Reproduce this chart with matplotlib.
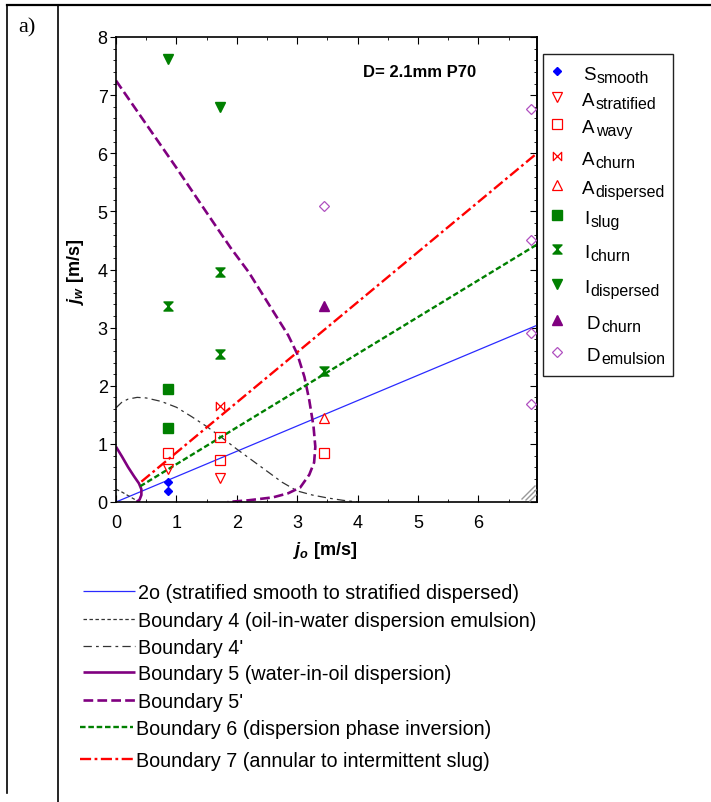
import matplotlib
matplotlib.use('Agg')
import matplotlib.pyplot as plt
from matplotlib.lines import Line2D
from matplotlib.patches import Rectangle
from matplotlib.path import Path
from matplotlib.ticker import MultipleLocator

plt.rcParams['font.family'] = ['Liberation Sans', 'DejaVu Sans']
plt.rcParams['mathtext.fontset'] = 'custom'
plt.rcParams['mathtext.rm'] = 'Liberation Sans:bold'
plt.rcParams['mathtext.it'] = 'Liberation Sans:bold:italic'
plt.rcParams['mathtext.bf'] = 'Liberation Sans:bold'
plt.rcParams['lines.scale_dashes'] = False

# ---------------- data ----------------
s_smooth_x = [0.86, 0.86]
s_smooth_y = [0.35, 0.19]
a_strat_x = [0.86, 1.72]
a_strat_y = [0.57, 0.41]
a_wavy_x = [0.86, 1.72, 1.72, 3.44]
a_wavy_y = [0.85, 0.73, 1.11, 0.85]
a_churn_x = [1.72]
a_churn_y = [1.66]
a_disp_x = [3.44]
a_disp_y = [1.44]
i_slug_x = [0.86, 0.86]
i_slug_y = [1.95, 1.27]
i_churn_x = [0.86, 1.72, 1.72, 3.44]
i_churn_y = [3.37, 3.96, 2.54, 2.26]
i_disp_x = [0.86, 1.72]
i_disp_y = [7.62, 6.80]
d_churn_x = [3.44]
d_churn_y = [3.38]
d_emul_x = [3.44, 6.87, 6.87, 6.87, 6.87]
d_emul_y = [5.09, 6.76, 4.50, 2.90, 1.68]

b2o_x = [0.0, 6.97]
b2o_y = [0.0, 3.04]
b4_x = [0.0, 0.1, 0.2, 0.3, 0.4]
b4_y = [0.22, 0.17, 0.11, 0.05, 0.0]
b4p_x = [0.0, 0.1, 0.2, 0.35, 0.5, 0.75, 1.0, 1.25, 1.5, 1.75, 2.0, 2.25,
         2.5, 2.75, 3.0, 3.25, 3.5, 3.75, 4.0]
b4p_y = [1.62, 1.72, 1.77, 1.80, 1.79, 1.73, 1.63, 1.47, 1.30, 1.11, 0.91,
         0.72, 0.53, 0.34, 0.19, 0.12, 0.07, 0.03, 0.0]
b5_x = [0.0, 0.1, 0.2, 0.3, 0.38, 0.42, 0.42, 0.39, 0.34]
b5_y = [0.95, 0.78, 0.60, 0.44, 0.32, 0.22, 0.12, 0.04, 0.0]
b5p_x = [0.0, 0.5, 1.0, 1.5, 1.9, 2.2, 2.5, 2.85, 3.0, 3.12, 3.2, 3.27, 3.3,
         3.28, 3.2, 3.05, 2.85, 2.6, 2.2, 1.85]
b5p_y = [7.25, 6.5, 5.75, 4.98, 4.37, 3.95, 3.45, 2.87, 2.55, 2.15, 1.75,
         1.30, 0.95, 0.68, 0.47, 0.25, 0.15, 0.08, 0.03, 0.0]
b6_x = [0.40, 6.97]
b6_y = [0.27, 4.43]
b7_x = [0.42, 6.97]
b7_y = [0.35, 6.00]

line_labels = ["2o (stratified smooth to stratified dispersed)",
               "Boundary 4 (oil-in-water dispersion emulsion)",
               "Boundary 4'",
               "Boundary 5 (water-in-oil dispersion)",
               "Boundary 5'",
               "Boundary 6 (dispersion phase inversion)",
               "Boundary 7 (annular to intermittent slug)"]

# ---------------- helpers ----------------
W, H = 711, 803


def fx(px):
    return px / W


def fy(py):
    return 1 - py / H


hourglass = Path([(-1, 1), (1, 1), (-1, -1), (1, -1), (-1, 1)],
                 [Path.MOVETO, Path.LINETO, Path.LINETO, Path.LINETO, Path.CLOSEPOLY])
bowtie = Path([(-1, -1), (-1, 1), (1, -1), (1, 1), (-1, -1)],
              [Path.MOVETO, Path.LINETO, Path.LINETO, Path.LINETO, Path.CLOSEPOLY])

BLUE = '#0000ff'
RED = '#ff0000'
GREEN = '#008000'
PURPLE = '#800080'
ORCHID = '#b050c0'

line_styles = [
    dict(color='#2a2aff', lw=0.9, ls='-'),
    dict(color='#333333', lw=0.9, ls=(0, (2.5, 1.8))),
    dict(color='#333333', lw=0.9, ls=(0, (6, 3, 2, 3))),
    dict(color=PURPLE, lw=1.9, ls='-'),
    dict(color=PURPLE, lw=1.9, ls=(0, (7, 3))),
    dict(color=GREEN, lw=1.7, ls=(0, (4, 2))),
    dict(color=RED, lw=1.7, ls=(0, (8, 2.5, 2, 2.5))),
]
line_data = [(b2o_x, b2o_y), (b4_x, b4_y), (b4p_x, b4p_y), (b5_x, b5_y),
             (b5p_x, b5p_y), (b6_x, b6_y), (b7_x, b7_y)]

marker_series = [
    ('S', 'smooth', s_smooth_x, s_smooth_y, dict(marker='D', ms=4.5, mfc=BLUE, mec=BLUE)),
    ('A', 'stratified', a_strat_x, a_strat_y, dict(marker='v', ms=6.5, mfc='none', mec=RED, mew=0.9)),
    ('A', 'wavy', a_wavy_x, a_wavy_y, dict(marker='s', ms=6.5, mfc='none', mec=RED, mew=0.9)),
    ('A', 'churn', a_churn_x, a_churn_y, dict(marker=bowtie, ms=6, mfc='none', mec=RED, mew=0.9)),
    ('A', 'dispersed', a_disp_x, a_disp_y, dict(marker='^', ms=6.5, mfc='none', mec=RED, mew=0.9)),
    ('I', 'slug', i_slug_x, i_slug_y, dict(marker='s', ms=6.5, mfc=GREEN, mec=GREEN)),
    ('I', 'churn', i_churn_x, i_churn_y, dict(marker=hourglass, ms=6.5, mfc=GREEN, mec=GREEN)),
    ('I', 'dispersed', i_disp_x, i_disp_y, dict(marker='v', ms=7, mfc=GREEN, mec=GREEN)),
    ('D', 'churn', d_churn_x, d_churn_y, dict(marker='^', ms=7, mfc=PURPLE, mec=PURPLE)),
    ('D', 'emulsion', d_emul_x, d_emul_y, dict(marker='D', ms=5, mfc='none', mec=ORCHID, mew=0.9)),
]

# ---------------- figure ----------------
fig = plt.figure(figsize=(W / 100, H / 100), dpi=100)

# table borders
fig.add_artist(Line2D([fx(7), fx(711)], [fy(6), fy(6)], color='black', lw=1.6))
fig.add_artist(Line2D([fx(7), fx(7)], [fy(6), fy(794)], color='black', lw=1.2))
fig.add_artist(Line2D([fx(58), fx(58)], [fy(6), fy(803)], color='black', lw=1.2))
fig.text(fx(18), fy(32), 'a)', family='Liberation Serif', fontsize=16, va='baseline')

ax = fig.add_axes([fx(116), fy(503), (537 - 116) / W, (503 - 38) / H])
ax.set_xlim(0, 6.97)
ax.set_ylim(0, 8)

for (xs, ys), st in zip(line_data, line_styles):
    ax.plot(xs, ys, color=st['color'], lw=st['lw'], ls=st['ls'], zorder=2,
            solid_capstyle='butt', dash_capstyle='butt')

for main, sub, xs, ys, mk in marker_series:
    ax.plot(xs, ys, ls='none', zorder=3, **mk)

ax.set_xticks(range(0, 7))
ax.xaxis.set_minor_locator(MultipleLocator(0.5))
ax.set_yticks(range(0, 9))
ax.yaxis.set_minor_locator(MultipleLocator(0.2))
ax.tick_params(axis='x', which='both', direction='in', top=True, labelsize=13, pad=9)
ax.tick_params(axis='x', which='major', length=5)
ax.tick_params(axis='x', which='minor', length=2.5)
ax.tick_params(axis='y', which='both', direction='out', labelsize=13, pad=2)
ax.tick_params(axis='y', which='major', length=4)
ax.tick_params(axis='y', which='minor', length=2)
for s in ax.spines.values():
    s.set_linewidth(1.2)

sec = ax.secondary_yaxis('right')
sec.set_yticks(range(0, 9))
sec.yaxis.set_minor_locator(MultipleLocator(0.2))
sec.tick_params(which='both', direction='in', labelright=False)
sec.tick_params(which='major', length=5)
sec.tick_params(which='minor', length=2.5)
sec.spines['right'].set_linewidth(1.2)

# resize-grip hatch in the corner
for (x0, y0, x1, y1) in [(522, 500, 535, 487), (526, 501, 536, 491), (530, 502, 536, 496)]:
    ax.plot([(x0 - 116) / 421, (x1 - 116) / 421], [(503 - y0) / 465, (503 - y1) / 465],
            transform=ax.transAxes, color='#999999', lw=1.0, clip_on=False, zorder=4)

ax.text(0.721, 0.925, 'D= 2.1mm P70', transform=ax.transAxes, ha='center', va='center',
        fontsize=12, fontweight='bold')

fig.text(fx(325), fy(551), r'$j_{o}$ [m/s]', ha='center', va='center', fontsize=13,
         fontweight='bold')
fig.text(fx(76), fy(272), r'$j_{w}$ [m/s]', ha='center', va='center', fontsize=13,
         fontweight='bold', rotation=90)

# right-hand marker legend
fig.add_artist(Rectangle((fx(543), fy(377)), (673 - 543) / W, (377 - 55) / H,
                         fill=False, edgecolor='#222222', lw=1.0))
marker_y = [72, 98, 125, 157, 186, 216, 250, 285, 321, 353]
main_x = [583, 582, 582, 582, 582, 584, 584, 584, 587, 587]
for (main, sub, xs, ys, mk), my, mx in zip(marker_series, marker_y, main_x):
    fig.add_artist(Line2D([fx(557)], [fy(my)], ls='none', **mk))
    base = my + 8
    t_main = fig.text(fx(mx), fy(base), main, fontsize=13.5, va='baseline', ha='left')
    ax.annotate(sub, xy=(1, fy(base + 3)), xycoords=(t_main, 'figure fraction'),
                xytext=(0.8, 0), textcoords='offset points',
                fontsize=11.5, va='baseline', ha='left', annotation_clip=False)

# bottom line legend
leg_y = [592, 620, 647, 673, 701, 728, 760]
leg_x0 = [83, 83, 83, 83, 83, 80, 80]
leg_x1 = [135, 135, 135, 135, 135, 133, 133]
leg_tx = [138, 138, 138, 138, 138, 136, 136]
for lab, st, y, x0, x1, tx in zip(line_labels, line_styles, leg_y, leg_x0, leg_x1, leg_tx):
    fig.add_artist(Line2D([fx(x0), fx(x1)], [fy(y), fy(y)], color=st['color'],
                          lw=st['lw'], ls=st['ls'], solid_capstyle='butt',
                          dash_capstyle='butt'))
    fig.text(fx(tx), fy(y + 7), lab, fontsize=14.2, va='baseline', ha='left')

fig.savefig('out.png', dpi=100)
